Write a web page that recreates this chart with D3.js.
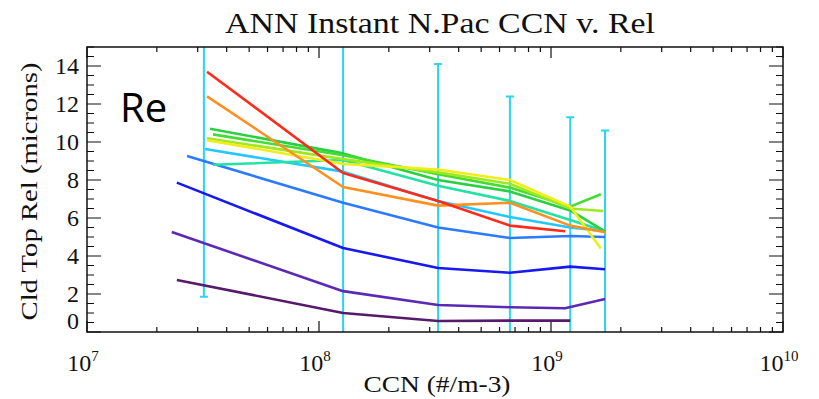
<!DOCTYPE html>
<html>
<head>
<meta charset="utf-8">
<script src="https://cdn.jsdelivr.net/npm/d3@7"></script>
<style>
  body { margin: 0; background: #fff; }
  .serif { font-family: "Liberation Serif", "DejaVu Serif", serif; fill: #111; }
</style>
</head>
<body>
<div class="chart"></div>
<script>
// data
var ccnBins = [1.27e8, 3.26e8, 6.65e8, 1.21e9, 1.71e9];
var errX = [3.19e7, 1.27e8, 3.26e8, 6.65e8, 1.21e9, 1.71e9];
var errLow = [1.85, -2, -2, -2, -2, -2];
var errHigh = [18, 18, 14.1, 12.4, 11.3, 10.6];

var seriesNames = ["s1","s2","s3","s4","s5","s6","s7","s8","s9","s10","s11","s12"];
var seriesColors = ["#561a6b","#5b2ab5","#1818f0","#2a7bff","#22c8ff","#22e2a4",
                    "#2ad044","#44dc30","#9ee820","#f0ee18","#ff9020","#ff2a1a"];
var seriesCcn = [
  [2.44e7, 1.27e8, 3.26e8, 6.65e8, 1.21e9],
  [2.32e7, 1.27e8, 3.26e8, 6.65e8, 1.15e9, 1.71e9],
  [2.44e7, 1.27e8, 3.26e8, 6.65e8, 1.21e9, 1.71e9],
  [2.70e7, 1.27e8, 3.26e8, 6.65e8, 1.21e9, 1.71e9],
  [3.23e7, 1.27e8, 3.26e8, 6.65e8, 1.21e9, 1.71e9],
  [3.49e7, 1.27e8, 3.26e8, 6.65e8, 1.21e9, 1.71e9],
  [3.39e7, 1.27e8, 3.26e8, 6.65e8, 1.21e9, 1.71e9],
  [3.49e7, 1.27e8, 3.26e8, 6.65e8, 1.21e9, 1.64e9],
  [3.29e7, 1.27e8, 3.26e8, 6.65e8, 1.21e9, 1.68e9],
  [3.29e7, 1.27e8, 3.26e8, 6.65e8, 1.21e9, 1.64e9],
  [3.29e7, 1.27e8, 3.26e8, 6.65e8, 1.21e9, 1.71e9],
  [3.29e7, 1.27e8, 3.26e8, 6.65e8, 1.15e9]
];
var seriesRe = [
  [2.74, 1.0, 0.58, 0.6, 0.6],
  [5.26, 2.15, 1.42, 1.3, 1.25, 1.74],
  [7.86, 4.42, 3.37, 3.12, 3.44, 3.3],
  [9.26, 6.8, 5.5, 4.95, 5.05, 5.0],
  [9.63, 8.44, 6.9, 6.05, 5.5, 5.3],
  [8.8, 9.05, 7.7, 6.9, 5.9, 5.3],
  [10.7, 9.4, 8.0, 7.4, 6.4, 5.3],
  [10.4, 9.3, 8.3, 7.6, 6.6, 7.25],
  [10.2, 9.1, 8.4, 7.8, 6.5, 6.37],
  [10.1, 8.85, 8.55, 8.0, 6.6, 4.4],
  [12.4, 7.63, 6.65, 6.8, 5.6, 5.25],
  [13.7, 8.37, 6.9, 5.6, 5.3]
];
var yTicks = [0, 2, 4, 6, 8, 10, 12, 14];
var xTicks = [1e7, 1e8, 1e9, 1e10];

var w = 819;
var h = 399;
var margin = {top: 47, right: 36, bottom: 67, left: 87};
var pw = w - margin.left - margin.right;
var ph = h - margin.top - margin.bottom;

var xScale = d3.scaleLog()
               .domain([1e7, 1e10])
               .range([0, pw]);
var yScale = d3.scaleLinear()
               .domain([0, 15])
               .range([ph, 0]);

var svg = d3.select(".chart")
            .append("svg")
            .attr("width", w)
            .attr("height", h);

svg.append("defs").append("clipPath")
   .attr("id", "plotclip")
   .append("rect")
   .attr("width", pw)
   .attr("height", ph);

var g = svg.append("g")
           .attr("transform", "translate(" + margin.left + "," + margin.top + ")");

// minor ticks
var xMinor = [];
for (var e = 7; e < 10; e++) {
  for (var m = 2; m < 10; m++) xMinor.push(m * Math.pow(10, e));
}
var yMinor = d3.range(0, 15.01, 0.5).filter(function(v){ return v % 2 !== 0; });

// axes (ticks inward, mirrored on top/right)
var tickG = g.append("g").attr("stroke", "#111").attr("stroke-width", 1.2);
tickG.selectAll(".xmaj").data(xTicks).enter().append("path")
     .attr("d", function(d){ var x = xScale(d); return "M" + x + "," + ph + "V" + (ph - 11) + "M" + x + ",0V11"; });
tickG.selectAll(".xmin").data(xMinor).enter().append("path")
     .attr("d", function(d){ var x = xScale(d); return "M" + x + "," + ph + "V" + (ph - 5) + "M" + x + ",0V5"; });
tickG.selectAll(".ymaj").data(yTicks).enter().append("path")
     .attr("d", function(d){ var y = yScale(d); return "M0," + y + "H14M" + pw + "," + y + "H" + (pw - 14); });
tickG.selectAll(".ymin").data(yMinor).enter().append("path")
     .attr("d", function(d){ var y = yScale(d); return "M0," + y + "H7M" + pw + "," + y + "H" + (pw - 7); });

// error bars
var errData = errX.map(function(x, i){ return {x: x, lo: errLow[i], hi: errHigh[i]}; });
var eb = g.append("g")
          .attr("clip-path", "url(#plotclip)")
          .attr("stroke", "#28d6f2")
          .attr("stroke-width", 2);
eb.selectAll(".ebar").data(errData).enter().append("path")
  .attr("fill", "none")
  .attr("d", function(d){
    var x = xScale(d.x), y0 = yScale(d.lo), y1 = yScale(d.hi);
    return "M" + x + "," + y0 + "V" + y1 +
           "M" + (x - 4) + "," + y0 + "H" + (x + 4) +
           "M" + (x - 4) + "," + y1 + "H" + (x + 4);
  });

// lines
var line = d3.line()
             .x(function(d){ return xScale(d[0]); })
             .y(function(d){ return yScale(d[1]); });
var lines = seriesNames.map(function(n, i){
  return seriesCcn[i].map(function(c, j){ return [c, seriesRe[i][j]]; });
});
g.append("g")
 .attr("clip-path", "url(#plotclip)")
 .selectAll("path")
 .data(lines)
 .enter()
 .append("path")
 .attr("fill", "none")
 .attr("stroke", function(d, i){ return seriesColors[i]; })
 .attr("stroke-width", 2.6)
 .attr("stroke-linejoin", "round")
 .attr("d", line);

// frame
g.append("rect")
 .attr("width", pw)
 .attr("height", ph)
 .attr("fill", "none")
 .attr("stroke", "#111")
 .attr("stroke-width", 1.5);

// y tick labels
g.selectAll(".ylab").data(yTicks).enter().append("text")
 .attr("class", "serif")
 .attr("x", -8)
 .attr("y", function(d){ return yScale(d) + (d === 0 ? -3 : 8); })
 .attr("text-anchor", "end")
 .attr("font-size", 24)
 .text(function(d){ return d; });

// x tick labels 10^n
var xl = g.selectAll(".xlab").data(xTicks).enter().append("text")
          .attr("class", "serif")
          .attr("x", function(d){ return xScale(d) - 4; })
          .attr("y", ph + 39)
          .attr("text-anchor", "middle")
          .attr("font-size", 24);
xl.append("tspan").text("10");
xl.append("tspan")
  .attr("font-size", 15)
  .attr("dy", -10)
  .text(function(d){ return Math.round(Math.log10(d)); });

// titles
svg.append("text")
   .attr("class", "serif")
   .attr("x", 440)
   .attr("y", 33)
   .attr("text-anchor", "middle")
   .attr("font-size", 30)
   .attr("textLength", 430)
   .attr("lengthAdjust", "spacingAndGlyphs")
   .text("ANN Instant N.Pac CCN v. Rel");
svg.append("text")
   .attr("class", "serif")
   .attr("x", margin.left + pw / 2 + 2)
   .attr("y", 392)
   .attr("text-anchor", "middle")
   .attr("font-size", 24)
   .attr("textLength", 147)
   .attr("lengthAdjust", "spacingAndGlyphs")
   .text("CCN (#/m-3)");
svg.append("text")
   .attr("class", "serif")
   .attr("transform", "translate(37," + (margin.top + ph / 2 + 2) + ") rotate(-90)")
   .attr("text-anchor", "middle")
   .attr("font-size", 24)
   .attr("textLength", 258)
   .attr("lengthAdjust", "spacingAndGlyphs")
   .text("Cld Top Rel (microns)");

// Re annotation
svg.append("text")
   .attr("x", 120)
   .attr("y", 122)
   .attr("font-family", "'Open Sans', 'Liberation Sans', sans-serif")
   .attr("font-size", 40)
   .attr("fill", "#000")
   .text("Re");
</script>
</body>
</html>
